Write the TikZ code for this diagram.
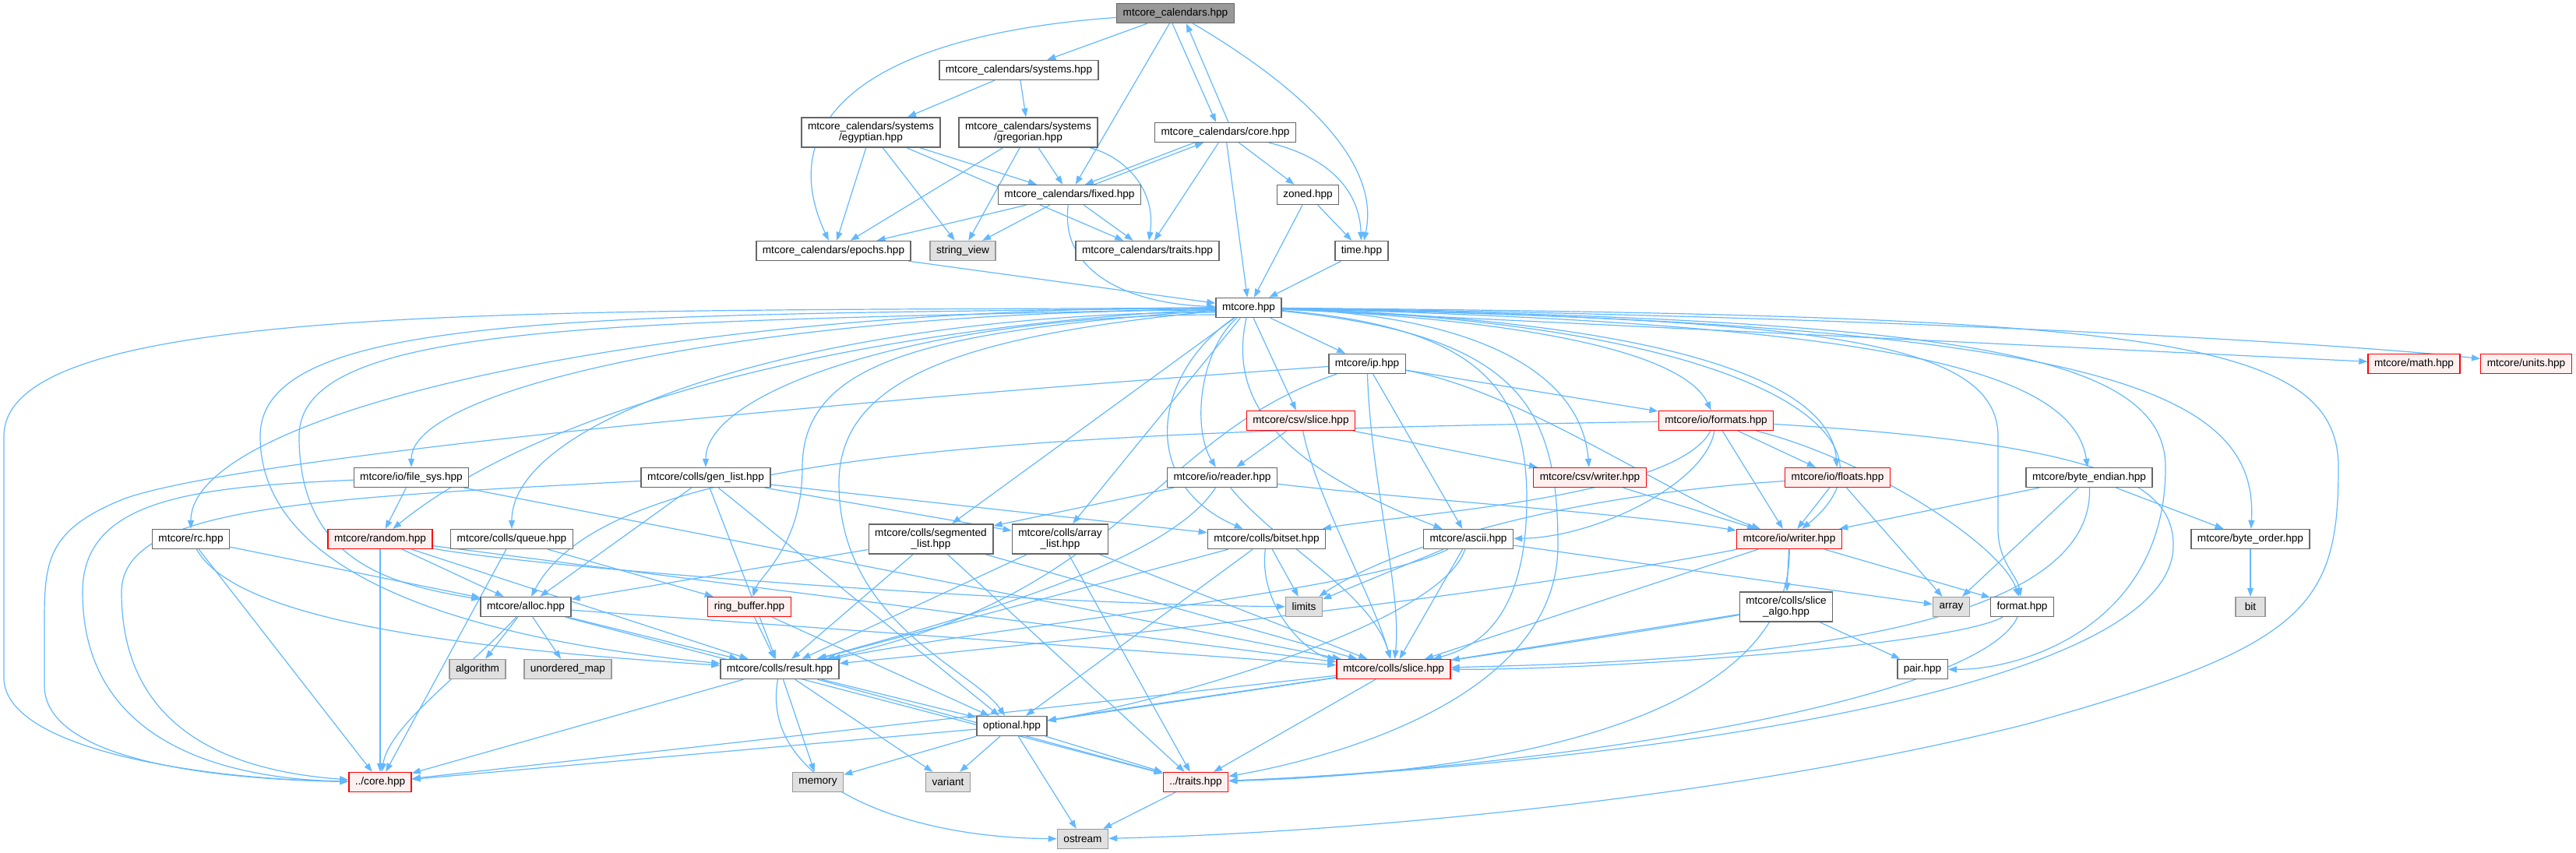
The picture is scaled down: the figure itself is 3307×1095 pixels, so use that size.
\documentclass[tikz,border=0pt]{standalone}
\usepackage{fontspec}
\setmainfont{Liberation Sans}
\usetikzlibrary{arrows.meta,calc,backgrounds}
\definecolor{edgeblue}{HTML}{63B8FF}
\definecolor{boxline}{HTML}{666666}
\definecolor{sysfill}{HTML}{E0E0E0}
\definecolor{sysline}{HTML}{999999}
\definecolor{redfill}{HTML}{FFF0F0}
\definecolor{redline}{HTML}{FF0000}
\begin{document}
\begin{tikzpicture}[x=1pt,y=-1pt,
  every node/.style={font=\fontsize{13.6pt}{14.7pt}\selectfont},
  filebox/.style={draw=boxline,fill=white,line width=1.4pt,minimum height=25pt,minimum width=38pt,inner xsep=8pt,inner ysep=5.5pt,align=center},
  redbox/.style={filebox,draw=redline,fill=redfill},
  sysbox/.style={filebox,draw=sysline,fill=sysfill},
  rootbox/.style={filebox,fill=sysline},
  dep/.style={draw=edgeblue,line width=1.2pt,-{Triangle[length=11pt,width=8pt]}},
  hv/.style={to path={.. controls ($(\tikztostart)!0.55!(\tikztotarget|-\tikztostart)$) and ($(\tikztotarget)!0.55!(\tikztotarget|-\tikztostart)$) .. (\tikztotarget) \tikztonodes}}]
\useasboundingbox (0,0) rectangle (3307,1095);
\node[rootbox] (cal) at (1509,17) {mtcore\_calendars.hpp};
\node[filebox] (sys) at (1308,90) {mtcore\_calendars/systems.hpp};
\node[filebox] (egy) at (1118,170) {mtcore\_calendars/systems\\/egyptian.hpp};
\node[filebox] (greg) at (1320,170) {mtcore\_calendars/systems\\/gregorian.hpp};
\node[filebox] (calcore) at (1573,170) {mtcore\_calendars/core.hpp};
\node[filebox] (fix) at (1373,250) {mtcore\_calendars/fixed.hpp};
\node[filebox] (zon) at (1679,250) {zoned.hpp};
\node[filebox] (epo) at (1070,322) {mtcore\_calendars/epochs.hpp};
\node[sysbox] (sv) at (1236,322) {string\_view};
\node[filebox] (calt) at (1473,322) {mtcore\_calendars/traits.hpp};
\node[filebox] (tim) at (1748,322) {time.hpp};
\node[filebox] (mt) at (1603,395) {mtcore.hpp};
\node[filebox] (ip) at (1755,467) {mtcore/ip.hpp};
\node[redbox] (math) at (3099,467) {mtcore/math.hpp};
\node[redbox] (units) at (3243,467) {mtcore/units.hpp};
\node[redbox] (cs) at (1670,540) {mtcore/csv/slice.hpp};
\node[redbox] (fmts) at (2203,540) {mtcore/io/formats.hpp};
\node[filebox] (fs) at (528,613) {mtcore/io/file\_sys.hpp};
\node[filebox] (gl) at (906,613) {mtcore/colls/gen\_list.hpp};
\node[filebox] (rd) at (1569,613) {mtcore/io/reader.hpp};
\node[redbox] (cw) at (2041,613) {mtcore/csv/writer.hpp};
\node[redbox] (flt) at (2359,613) {mtcore/io/floats.hpp};
\node[filebox] (be) at (2682,613) {mtcore/byte\_endian.hpp};
\node[filebox] (rc) at (245,692) {mtcore/rc.hpp};
\node[redbox] (rnd) at (488,692) {mtcore/random.hpp};
\node[filebox] (que) at (657,692) {mtcore/colls/queue.hpp};
\node[filebox] (seg) at (1195,692) {mtcore/colls/segmented\\\_list.hpp};
\node[filebox] (arl) at (1361,692) {mtcore/colls/array\\\_list.hpp};
\node[filebox] (bs) at (1626,692) {mtcore/colls/bitset.hpp};
\node[filebox] (asc) at (1885,692) {mtcore/ascii.hpp};
\node[redbox] (wr) at (2297,692) {mtcore/io/writer.hpp};
\node[filebox] (bo) at (2889,692) {mtcore/byte\_order.hpp};
\node[filebox] (alc) at (675,779) {mtcore/alloc.hpp};
\node[redbox] (rb) at (962,779) {ring\_buffer.hpp};
\node[sysbox] (lim) at (1674,779) {limits};
\node[filebox] (sa) at (2293,779) {mtcore/colls/slice\\\_algo.hpp};
\node[sysbox] (arry) at (2505,779) {array};
\node[filebox] (fmh) at (2596,779) {format.hpp};
\node[sysbox] (bit) at (2889,779) {bit};
\node[sysbox] (algo) at (613,859) {algorithm};
\node[sysbox] (umap) at (729,859) {unordered\_map};
\node[filebox] (res) at (1001,859) {mtcore/colls/result.hpp};
\node[redbox] (sl) at (1789,859) {mtcore/colls/slice.hpp};
\node[filebox] (pair) at (2468,859) {pair.hpp};
\node[filebox] (opt) at (1299,932) {optional.hpp};
\node[redbox] (core) at (488,1004) {../core.hpp};
\node[sysbox] (mem) at (1050,1004) {memory};
\node[sysbox] (var) at (1217,1004) {variant};
\node[redbox] (tr) at (1535,1004) {../traits.hpp};
\node[sysbox] (ost) at (1390,1077) {ostream};
\begin{scope}[on background layer]
\draw[dep] (cal) -- (sys);
\draw[dep] (cal) .. controls (1120,45) and (990,150) .. (epo);
\draw[dep] (cal) -- (fix);
\draw[dep] ([xshift=-4pt]cal.south) -- ([xshift=-12pt]calcore.north);
\draw[dep] ([xshift=4pt]calcore.north) -- ([xshift=14pt]cal.south);
\draw[dep] (cal) .. controls (1650,100) and (1775,200) .. (tim);
\draw[dep] (sys) -- (egy);
\draw[dep] (sys) -- (greg);
\draw[dep] (egy) -- (epo);
\draw[dep] (egy) -- (sv);
\draw[dep] (egy) -- (fix);
\draw[dep] (egy) -- (calt);
\draw[dep] (greg) -- (epo);
\draw[dep] (greg) -- (sv);
\draw[dep] (greg) -- (fix);
\draw[dep] (greg) .. controls (1440,200) and (1485,240) .. (calt);
\draw[dep] ([xshift=-40pt]calcore.south) -- ([xshift=20pt]fix.north);
\draw[dep] ([xshift=32pt]fix.north) -- ([xshift=-28pt]calcore.south);
\draw[dep] (calcore) -- (calt);
\draw[dep] (calcore) -- (mt);
\draw[dep] (calcore) -- (zon);
\draw[dep] (calcore) .. controls (1700,200) and (1745,240) .. (tim);
\draw[dep] (fix) -- (epo);
\draw[dep] (fix) -- (sv);
\draw[dep] (fix) -- (calt);
\draw[dep] (fix) .. controls (1360,350) and (1450,390) .. (mt);
\draw[dep] (zon) -- (mt);
\draw[dep] (zon) -- (tim);
\draw[dep] (tim) -- (mt);
\draw[dep] (epo) -- (mt);
\draw[dep] (mt) .. controls (700,400) and (5,385) .. (5,560) -- (5,870) .. controls (5,960) and (250,1000) .. (core);
\draw[dep] (mt.west) to[hv] (rc);
\draw[dep] ([yshift=-3pt]mt.west) to[hv] (fs);
\draw[dep] (mt) .. controls (1100,420) and (700,520) .. (rnd);
\draw[dep] ([yshift=-6pt]mt.west) to[hv] (que);
\draw[dep] ([yshift=-9pt]mt.west) to[hv] (gl);
\draw[dep] (mt) .. controls (800,415) and (384,410) .. (384,560) .. controls (384,720) and (500,750) .. (alc);
\draw[dep] (mt) .. controls (760,405) and (334,400) .. (334,560) .. controls (334,770) and (700,830) .. (res);
\draw[dep] (mt) .. controls (1200,425) and (1030,460) .. (1030,600) .. controls (1030,700) and (975,740) .. (rb);
\draw[dep] (mt) .. controls (1250,430) and (1077,480) .. (1077,620) .. controls (1077,800) and (1250,860) .. (opt);
\draw[dep] (mt) -- (seg);
\draw[dep] (mt) -- (arl);
\draw[dep] (mt) .. controls (1480,480) and (1460,620) .. (bs);
\draw[dep] (mt) .. controls (1540,450) and (1530,550) .. (rd);
\draw[dep] (mt) -- (cs);
\draw[dep] (mt) -- (ip);
\draw[dep] (mt) .. controls (1575,520) and (1650,600) .. (asc);
\draw[dep] (mt) .. controls (1900,420) and (1960,500) .. (1960,640) .. controls (1960,790) and (1900,830) .. (sl);
\draw[dep] (mt) .. controls (1950,430) and (2000,520) .. (2000,700) .. controls (2000,900) and (1700,975) .. (tr);
\draw[dep] (mt) .. controls (1900,405) and (2030,480) .. (cw);
\draw[dep] (mt) .. controls (1950,410) and (2160,450) .. (fmts);
\draw[dep] (mt) .. controls (2100,410) and (2350,480) .. (flt);
\draw[dep] (mt) .. controls (2250,415) and (2460,560) .. (wr);
\draw[dep] (mt) .. controls (2400,415) and (2660,470) .. (be);
\draw[dep] (mt) .. controls (2700,415) and (2900,500) .. (bo);
\draw[dep] (mt) .. controls (2300,410) and (2565,430) .. (2565,560) -- (2565,680) .. controls (2565,720) and (2590,740) .. (fmh);
\draw[dep] (mt) .. controls (2500,410) and (2780,450) .. (2780,600) .. controls (2780,800) and (2600,860) .. (pair);
\draw[dep] (mt) -- (math);
\draw[dep] (mt) .. controls (2400,405) and (3000,440) .. (units);
\draw[dep] (mt) .. controls (2750,405) and (3002,430) .. (3002,600) .. controls (3002,780) and (2960,830) .. (2600,930) .. controls (2200,1030) and (1700,1070) .. (ost);
\draw[dep] (ip) .. controls (1000,520) and (300,590) .. (160,640) .. controls (60,680) and (57,720) .. (57,800) -- (57,880) .. controls (57,970) and (250,1000) .. (core);
\draw[dep] (ip) -- (fmts);
\draw[dep] (ip) .. controls (1480,560) and (1450,760) .. (res);
\draw[dep] (ip) .. controls (1760,620) and (1800,760) .. (sl);
\draw[dep] (ip) .. controls (1950,500) and (2150,640) .. (wr);
\draw[dep] (ip) -- (asc);
\draw[dep] (cs) -- (rd);
\draw[dep] (cs) -- (cw);
\draw[dep] (cs) .. controls (1690,640) and (1760,760) .. (sl);
\draw[dep] (rd) -- (seg);
\draw[dep] (rd) .. controls (1500,720) and (1250,790) .. (res);
\draw[dep] (rd) .. controls (1800,640) and (2100,660) .. (wr);
\draw[dep] (rd) .. controls (1640,700) and (1760,760) .. (sl);
\draw[dep] (gl) .. controls (400,640) and (156,650) .. (156,760) .. controls (156,940) and (300,990) .. (core);
\draw[dep] (gl) -- (alc);
\draw[dep] (gl) -- (res);
\draw[dep] (gl) -- (opt);
\draw[dep] (gl) -- (arl);
\draw[dep] (gl) -- (bs);
\draw[dep] (fs) .. controls (250,625) and (106,640) .. (106,760) .. controls (106,960) and (300,1000) .. (core);
\draw[dep] (fs) -- (rnd);
\draw[dep] (fs) -- (sl);
\draw[dep] (rc) -- (alc);
\draw[dep] (rc) -- (core);
\draw[dep] (rc) .. controls (300,790) and (550,830) .. (res);
\draw[dep] (rnd) -- (core);
\draw[dep] (rnd) -- (alc);
\draw[dep] (rnd) -- (res);
\draw[dep] (rnd) .. controls (700,730) and (1300,775) .. (lim);
\draw[dep] (rnd) -- (sl);
\draw[dep] (que) -- (core);
\draw[dep] (que) -- (rb);
\draw[dep] (seg) -- (alc);
\draw[dep] (seg) -- (res);
\draw[dep] (seg) -- (tr);
\draw[dep] (seg) -- (sl);
\draw[dep] (arl) -- (res);
\draw[dep] (arl) -- (tr);
\draw[dep] (arl) -- (sl);
\draw[dep] (bs) -- (lim);
\draw[dep] (bs) -- (res);
\draw[dep] (bs) -- (opt);
\draw[dep] (bs) .. controls (1615,780) and (1680,840) .. (sl);
\draw[dep] (asc) -- (lim);
\draw[dep] (asc) -- (arry);
\draw[dep] (asc) -- (sl);
\draw[dep] (asc) .. controls (1850,800) and (1500,900) .. (opt);
\draw[dep] (asc) .. controls (1750,760) and (1300,800) .. (res);
\draw[dep] (fmts) .. controls (1300,555) and (780,580) .. (alc);
\draw[dep] (fmts) .. controls (2190,620) and (2050,690) .. (asc);
\draw[dep] (fmts) -- (flt);
\draw[dep] (fmts) -- (wr);
\draw[dep] (fmts) .. controls (2400,590) and (2570,700) .. (fmh);
\draw[dep] (fmts) .. controls (2150,640) and (1800,660) .. (bs);
\draw[dep] (fmts) .. controls (2700,570) and (2790,620) .. (2790,700) .. controls (2790,900) and (2000,985) .. (tr);
\draw[dep] (cw) -- (wr);
\draw[dep] (flt) -- (wr);
\draw[dep] (flt) -- (arry);
\draw[dep] (flt) .. controls (1950,640) and (1760,720) .. (lim);
\draw[dep] (be) -- (wr);
\draw[dep] (be) -- (arry);
\draw[dep] (be) -- (bo);
\draw[dep] (be) .. controls (2690,840) and (2100,850) .. (sl);
\draw[dep] (bo) -- (bit);
\draw[dep] (wr) .. controls (1900,770) and (1300,830) .. (res);
\draw[dep] (wr) -- (sl);
\draw[dep] (wr) -- (sa);
\draw[dep] (wr) -- (fmh);
\draw[dep] (wr) .. controls (2300,900) and (2000,990) .. (tr);
\draw[dep] (sa) -- (sl);
\draw[dep] (sa) .. controls (2000,830) and (1500,900) .. (opt);
\draw[dep] (sa) -- (pair);
\draw[dep] (fmh) .. controls (2500,830) and (2050,860) .. (sl);
\draw[dep] (fmh) .. controls (2540,900) and (2000,985) .. (tr);
\draw[dep] (alc) -- (algo);
\draw[dep] (alc) -- (umap);
\draw[dep] (alc) .. controls (600,860) and (500,930) .. (core);
\draw[dep] (alc) -- (res);
\draw[dep] (alc) -- (sl);
\draw[dep] (alc) -- (tr);
\draw[dep] (rb) -- (res);
\draw[dep] (rb) -- (opt);
\draw[dep] (res) -- (core);
\draw[dep] (res) -- (mem);
\draw[dep] (res) -- (var);
\draw[dep] (res) -- (opt);
\draw[dep] (res) -- (tr);
\draw[dep] (res) .. controls (975,1000) and (1150,1075) .. (ost);
\draw[dep] (sl) -- (opt);
\draw[dep] (sl) -- (tr);
\draw[dep] (sl) -- (core);
\draw[dep] (opt) -- (core);
\draw[dep] (opt) -- (mem);
\draw[dep] (opt) -- (var);
\draw[dep] (opt) -- (tr);
\draw[dep] (opt) -- (ost);
\draw[dep] (tr) -- (ost);
\end{scope}
\end{tikzpicture}
\end{document}
